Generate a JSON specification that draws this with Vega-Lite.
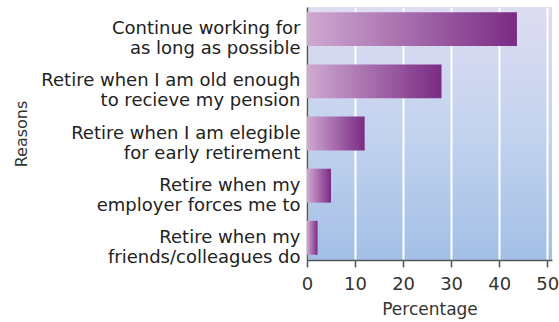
{
  "$schema": "https://vega.github.io/schema/vega-lite/v6.json",
  "width": 245,
  "height": 253,
  "autosize": "none",
  "padding": {"left": 307, "top": 7, "right": 7, "bottom": 62},
  "background": "#ffffff",
  "data": {
    "values": [
      {"reason": "Continue working for|as long as possible", "pct": 43.7},
      {"reason": "Retire when I am old enough|to recieve my pension", "pct": 28},
      {"reason": "Retire when I am elegible|for early retirement", "pct": 12},
      {"reason": "Retire when my|employer forces me to", "pct": 5},
      {"reason": "Retire when my|friends/colleagues do", "pct": 2.2}
    ]
  },
  "mark": {
    "type": "bar",
    "color": {
      "gradient": "linear",
      "x1": 0, "y1": 0, "x2": 1, "y2": 0,
      "stops": [
        {"offset": 0, "color": "#cfa9d1"},
        {"offset": 1, "color": "#7a2b84"}
      ]
    }
  },
  "encoding": {
    "y": {
      "field": "reason",
      "type": "nominal",
      "sort": null,
      "scale": {"paddingInner": 0.35, "paddingOuter": 0.1},
      "axis": {
        "title": "Reasons",
        "titleFont": "DejaVu Sans",
        "titleFontSize": 16,
        "titleFontWeight": "normal",
        "titleColor": "#333333",
        "titleAngle": -90,
        "titleX": -286,
        "titleY": 126.5,
        "titleAlign": "center",
        "titleBaseline": "middle",
        "labelExpr": "split(datum.label, '|')",
        "labelFont": "DejaVu Sans",
        "labelFontSize": 18,
        "labelLineHeight": 20,
        "labelColor": "#222222",
        "labelPadding": 7,
        "labelLimit": 400,
        "ticks": false,
        "tickSize": 0,
        "domainColor": "#555555",
        "domainWidth": 1.5,
        "grid": false
      }
    },
    "x": {
      "field": "pct",
      "type": "quantitative",
      "scale": {"domain": [0, 51], "nice": false},
      "axis": {
        "title": "Percentage",
        "values": [0, 10, 20, 30, 40, 50],
        "grid": true,
        "gridColor": "#ffffff",
        "gridWidth": 2,
        "gridOpacity": 1,
        "tickSize": 7,
        "tickColor": "#555555",
        "tickWidth": 1.5,
        "domainColor": "#555555",
        "domainWidth": 1.5,
        "labelFlush": false,
        "labelFont": "DejaVu Sans",
        "labelFontSize": 18,
        "labelColor": "#333333",
        "labelPadding": 8,
        "titleFont": "DejaVu Sans",
        "titleFontSize": 17,
        "titleFontWeight": "normal",
        "titleColor": "#333333",
        "titleY": 54,
        "titleBaseline": "alphabetic"
      }
    }
  },
  "config": {
    "view": {
      "stroke": null,
      "fill": {
        "gradient": "linear",
        "x1": 0, "y1": 0, "x2": 0, "y2": 1,
        "stops": [
          {"offset": 0, "color": "#dedcf1"},
          {"offset": 0.5, "color": "#c3d3ee"},
          {"offset": 1, "color": "#a3bfe6"}
        ]
      }
    }
  }
}
